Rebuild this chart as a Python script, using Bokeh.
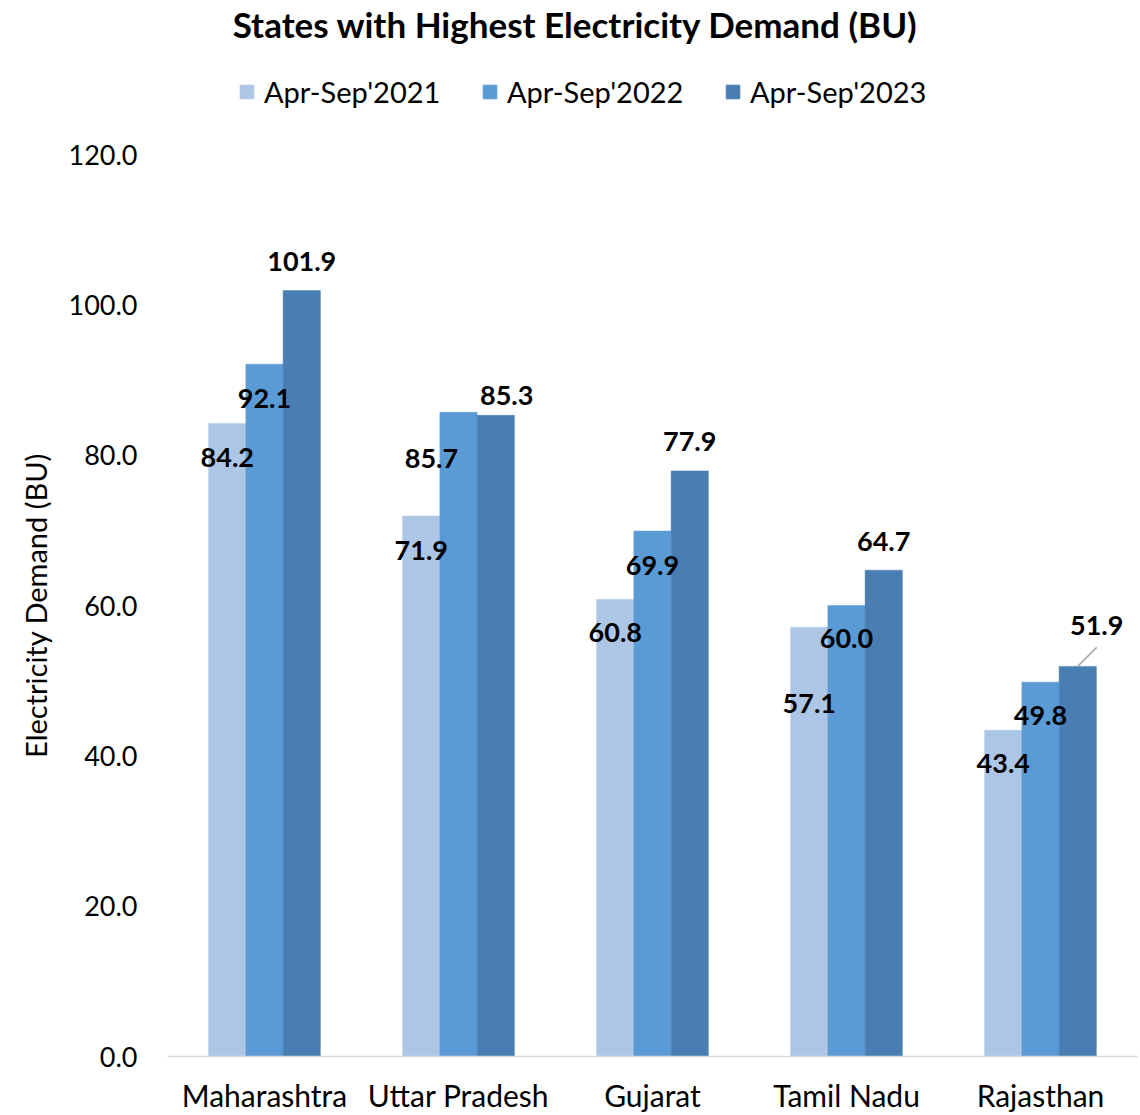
from bokeh.plotting import figure
from bokeh.layouts import column
from bokeh.models import (ColumnDataSource, FactorRange, FixedTicker, Legend,
                          LegendItem, Label, NumeralTickFormatter)
from bokeh.transform import dodge
from bokeh.core.properties import value
from bokeh.embed import file_html
from bokeh.resources import INLINE

# ---------------- data ----------------
states = ["Maharashtra", "Uttar Pradesh", "Gujarat", "Tamil Nadu", "Rajasthan"]
series = ["Apr-Sep'2021", "Apr-Sep'2022", "Apr-Sep'2023"]
demand_2021 = [84.2, 71.9, 60.8, 57.1, 43.4]
demand_2022 = [92.1, 85.7, 69.9, 60.0, 49.8]
demand_2023 = [101.9, 85.3, 77.9, 64.7, 51.9]
y_ticks = [0, 20, 40, 60, 80, 100, 120]

# data-label nudges in pixels (dx to the right, dy downward from bar top)
label_dx_2021 = [0, 0, 0, 0, 0]
label_dy_2021 = [34, 34, 33, 76, 33]
label_dx_2022 = [0, -27, 0, 0, 0]
label_dy_2022 = [34, 46, 34, 33, 33]
label_dx_2023 = [0, 11, 0, 0, 19]
label_dy_2023 = [-29, -20, -29, -29, -41]

colors = ["#AEC6E6", "#5B9BD5", "#4A7EB2"]
FONT = "Lato"
TITLE = "States with Highest Electricity Demand (BU)"

W = 1140
HEAD_H = 134
MAIN_H = 981
LEFT, RIGHT, TOP, BOTTOM = 167, 3, 20, 59
Y_MAX = 120
BAR_W = 0.192
offsets = [-BAR_W, 0.0, BAR_W]

# ---------------- header (title + legend) ----------------
# (its frame is aligned with the main chart's frame, which starts at x=LEFT)
head = figure(width=W, height=HEAD_H, x_range=(0, 1), y_range=(0, 1),
              output_backend="svg", toolbar_location=None, title_location=None,
              x_axis_location=None, y_axis_location=None,
              min_border=0, outline_line_color=None)
head.xgrid.grid_line_color = None
head.ygrid.grid_line_color = None

# legend swatches: zero-height bars placed outside the visible range
swatches = [head.vbar(x=[-5], top=[0], width=0.1, fill_color=c, line_color=c)
            for c in colors]
legend = Legend(items=[LegendItem(label=s, renderers=[r]) for s, r in zip(series, swatches)],
                orientation="horizontal", location=(238 - LEFT, 25),
                glyph_width=17, glyph_height=17, label_standoff=9,
                label_width=205, spacing=12, padding=0, margin=0,
                border_line_color=None, background_fill_alpha=0,
                label_text_font=FONT, label_text_font_size="29px",
                label_text_color="black")
head.add_layout(legend, "center")

head.add_layout(Label(x=575 - LEFT, y=HEAD_H - 23, x_units="screen", y_units="screen",
                      text=TITLE, text_align="center", text_baseline="middle",
                      text_font=FONT, text_font_style="bold", text_font_size="35px",
                      text_color="black"))

# ---------------- main chart ----------------
p = figure(width=W, height=MAIN_H, x_range=FactorRange(*states), y_range=(0, Y_MAX),
           output_backend="svg", toolbar_location=None, title_location=None,
           min_border_left=LEFT, min_border_right=RIGHT,
           min_border_top=TOP, min_border_bottom=BOTTOM)
p.outline_line_color = None
p.xgrid.grid_line_color = None
p.ygrid.grid_line_color = None

all_vals = [demand_2021, demand_2022, demand_2023]
all_dx = [label_dx_2021, label_dx_2022, label_dx_2023]
all_dy = [label_dy_2021, label_dy_2022, label_dy_2023]

sources = []
for vals, dx, dy, off, col in zip(all_vals, all_dx, all_dy, offsets, colors):
    src = ColumnDataSource(dict(state=states, v=vals,
                                t=[f"{v:.1f}" for v in vals], dx=dx, dy=dy))
    sources.append(src)
    p.vbar(x=dodge("state", off, range=p.x_range), top="v", width=BAR_W,
           source=src, fill_color=col, line_color=col, line_width=0.5)

for src, off in zip(sources, offsets):
    p.text(x=dodge("state", off, range=p.x_range), y="v", text="t",
           x_offset="dx", y_offset="dy", source=src,
           text_align="center", text_baseline="middle",
           text_font=value(FONT), text_font_style="bold",
           text_font_size="27px", text_color="black")

# leader line for the Rajasthan 2023 label
frame_h = MAIN_H - TOP - BOTTOM
px_per_unit = frame_h / Y_MAX
px_per_cat = (W - LEFT - RIGHT) / len(states)
lead = 19
lsrc = ColumnDataSource(dict(state=[states[4]], v=[demand_2023[4]],
                             v1=[demand_2023[4] + lead / px_per_unit]))
p.segment(x0=dodge("state", offsets[2], range=p.x_range), y0="v",
          x1=dodge("state", offsets[2] + lead / px_per_cat, range=p.x_range), y1="v1",
          source=lsrc, line_color="#A6A6A6", line_width=1.5)

# axes
p.yaxis.ticker = FixedTicker(ticks=y_ticks)
p.yaxis.formatter = NumeralTickFormatter(format="0.0")
p.yaxis.axis_line_color = None
p.yaxis.major_tick_line_color = None
p.yaxis.minor_tick_line_color = None
p.yaxis.major_label_standoff = 24
p.yaxis.major_label_text_font = FONT
p.yaxis.major_label_text_font_size = "27px"
p.yaxis.major_label_text_color = "black"
p.yaxis.axis_label = "Electricity Demand (BU)"
p.yaxis.axis_label_text_font = FONT
p.yaxis.axis_label_text_font_style = "normal"
p.yaxis.axis_label_text_font_size = "29px"
p.yaxis.axis_label_text_color = "black"
p.yaxis.axis_label_standoff = 12

p.xaxis.axis_line_color = "#D9D9D9"
p.xaxis.axis_line_width = 1.5
p.xaxis.major_tick_line_color = None
p.xaxis.minor_tick_line_color = None
p.xaxis.major_label_standoff = 14
p.xaxis.major_label_text_font = FONT
p.xaxis.major_label_text_font_size = "30px"
p.xaxis.major_label_text_color = "black"

layout = column(head, p, spacing=0)
open("out.html", "w").write(file_html(layout, INLINE))
